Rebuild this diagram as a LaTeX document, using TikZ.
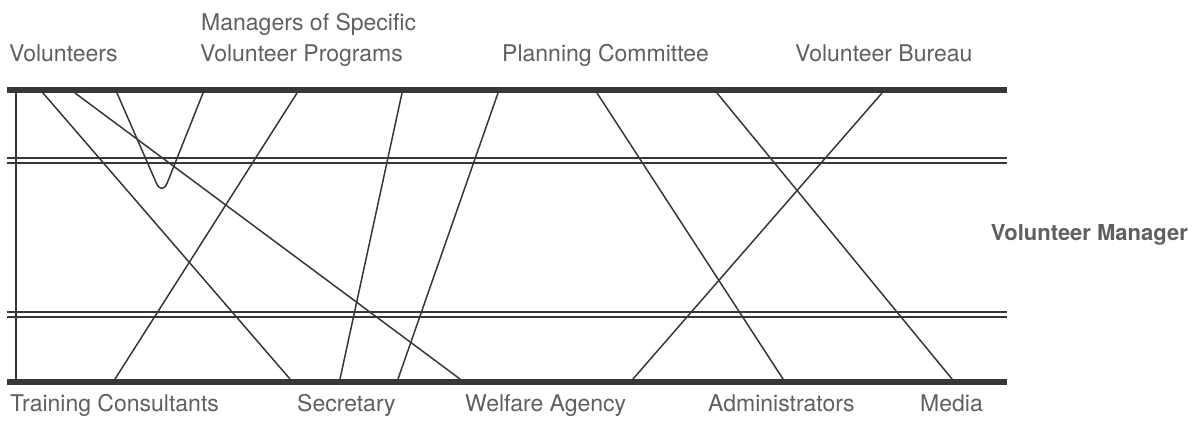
\documentclass[tikz,border=0pt]{standalone}
\usepackage{fontspec}
\setmainfont{TeX Gyre Heros}
\definecolor{txt}{RGB}{95,95,95}
\definecolor{ink}{RGB}{55,55,55}
\begin{document}
\begin{tikzpicture}[x=1pt,y=-1pt,
  lbl/.style={anchor=base west, inner sep=0pt, text=txt, font=\fontsize{23}{28}\selectfont},
  boldlbl/.style={anchor=base east, inner sep=0pt, text=txt, font=\fontsize{22}{26}\selectfont\bfseries},
  bar/.style={line width=6pt, draw=ink},
  rail/.style={line width=1.3pt, draw=ink},
  link/.style={line width=1.5pt, draw=ink, line cap=round}]
\useasboundingbox (0,0) rectangle (1198,423);
% bars
\coordinate (TL) at (7,90);   \coordinate (TR) at (1007,90);
\coordinate (BL) at (7,382);  \coordinate (BR) at (1007,382);
\draw[bar] (TL) -- (TR);
\draw[bar] (BL) -- (BR);
% rails
\coordinate (r1l) at (7,158); \coordinate (r1r) at (1007,158);
\coordinate (r2l) at (7,163); \coordinate (r2r) at (1007,163);
\coordinate (r3l) at (7,312); \coordinate (r3r) at (1007,312);
\coordinate (r4l) at (7,317); \coordinate (r4r) at (1007,317);
\draw[rail] (r1l) -- (r1r);
\draw[rail] (r2l) -- (r2r);
\draw[rail] (r3l) -- (r3r);
\draw[rail] (r4l) -- (r4r);
% top and bottom anchor points
\coordinate (t0) at (16,90);  \coordinate (b0) at (16,382);
\coordinate (t1) at (43,93);  \coordinate (b1) at (290,379);
\coordinate (t2) at (75,93);  \coordinate (b2) at (460,379);
\coordinate (t3a) at (117,93); \coordinate (v3) at (162,196); \coordinate (t3b) at (203,93);
\coordinate (t4) at (297,93); \coordinate (b4) at (115,379);
\coordinate (t5) at (402,93); \coordinate (b5) at (340,379);
\coordinate (t6) at (498,93); \coordinate (b6) at (398,379);
\coordinate (t7) at (597,93); \coordinate (b7) at (783,379);
\coordinate (t8) at (717,93); \coordinate (b8) at (952,379);
\coordinate (t9) at (882,93); \coordinate (b9) at (633,379);
\draw[link] (t0) -- (b0);
\draw[link] (t1) -- (b1);
\draw[link] (t2) -- (b2);
\draw[link, rounded corners=14pt] (t3a) -- (v3) -- (t3b);
\draw[link] (t4) -- (b4);
\draw[link] (t5) -- (b5);
\draw[link] (t6) -- (b6);
\draw[link] (t7) -- (b7);
\draw[link] (t8) -- (b8);
\draw[link] (t9) -- (b9);
% labels
\node[lbl] (volunteers) at (9,61) {Volunteers};
\node[lbl] (managers) at (201,30) {Managers of Specific};
\node[lbl] (programs) at (200,61) {Volunteer Programs};
\node[lbl] (planning) at (502,61) {Planning Committee};
\node[lbl] (bureau) at (795,61) {Volunteer Bureau};
\node[boldlbl] (vmanager) at (1188,240) {Volunteer Manager};
\node[lbl] (training) at (10,411) {Training Consultants};
\node[lbl] (secretary) at (297,411) {Secretary};
\node[lbl] (welfare) at (465,411) {Welfare Agency};
\node[lbl] (admins) at (708,411) {Administrators};
\node[lbl] (media) at (920,411) {Media};
\end{tikzpicture}
\end{document}
